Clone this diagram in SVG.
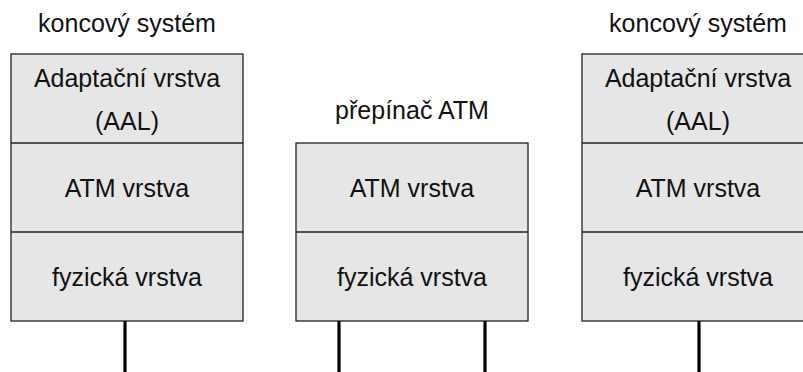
<svg xmlns="http://www.w3.org/2000/svg" width="803" height="372" viewBox="0 0 803 372">
<style>
.box{fill:#e6e6e6;stroke:#222;stroke-width:1.3}
.div{stroke:#222;stroke-width:1.3}
text{font-family:"Liberation Sans",Arial,sans-serif;font-size:25px;fill:#111;text-anchor:middle}
.link{stroke:#000;stroke-width:3.2}
</style>
<rect width="803" height="372" fill="#fff"/>
<g id="end-left">
<text x="127" y="32">koncový systém</text>
<rect class="box" x="11" y="54" width="232" height="267"/>
<line class="div" x1="11" y1="143" x2="243" y2="143"/>
<line class="div" x1="11" y1="232" x2="243" y2="232"/>
<text x="127" y="87">Adaptační vrstva</text>
<text x="127" y="130">(AAL)</text>
<text x="127" y="197">ATM vrstva</text>
<text x="127" y="286">fyzická vrstva</text>
</g>
<g id="switch">
<text x="412" y="119">přepínač ATM</text>
<rect class="box" x="296" y="143" width="232" height="178"/>
<line class="div" x1="296" y1="232" x2="528" y2="232"/>
<text x="412" y="197">ATM vrstva</text>
<text x="412" y="286">fyzická vrstva</text>
</g>
<g id="end-right">
<text x="698" y="32">koncový systém</text>
<rect class="box" x="582" y="54" width="240" height="267"/>
<line class="div" x1="582" y1="143" x2="822" y2="143"/>
<line class="div" x1="582" y1="232" x2="822" y2="232"/>
<text x="698" y="87">Adaptační vrstva</text>
<text x="698" y="130">(AAL)</text>
<text x="698" y="197">ATM vrstva</text>
<text x="698" y="286">fyzická vrstva</text>
</g>
<g id="connectors">
<line class="link" x1="125" y1="321" x2="125" y2="372"/>
<line class="link" x1="339" y1="321" x2="339" y2="372"/>
<line class="link" x1="485" y1="321" x2="485" y2="372"/>
<line class="link" x1="699" y1="321" x2="699" y2="372"/>
</g>
</svg>
